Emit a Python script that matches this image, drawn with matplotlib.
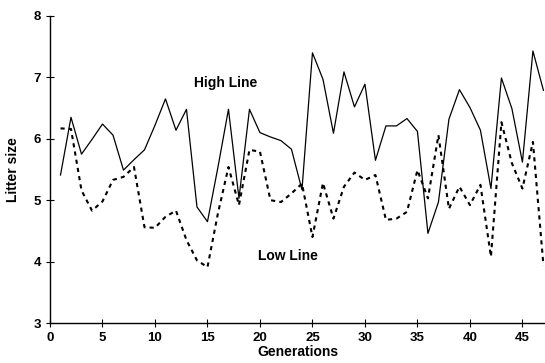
import matplotlib
matplotlib.use("Agg")
import matplotlib.pyplot as plt

plt.rcParams['font.family'] = ['Liberation Sans', 'DejaVu Sans']

# 世代
generations = list(range(1, 48))

# High Line（實線）
high_line = [5.41, 6.35, 5.75, 5.99, 6.24, 6.06, 5.49, 5.66, 5.82, 6.22,
             6.65, 6.14, 6.48, 4.89, 4.65, 5.54, 6.48, 5.03, 6.48, 6.10,
             6.03, 5.97, 5.83, 5.17, 7.40, 6.97, 6.09, 7.09, 6.52, 6.89,
             5.65, 6.21, 6.21, 6.33, 6.12, 4.46, 4.97, 6.32, 6.80, 6.51,
             6.14, 5.19, 6.99, 6.49, 5.62, 7.43, 6.79]

# Low Line（虛線）
low_line = [6.17, 6.16, 5.16, 4.83, 4.98, 5.33, 5.38, 5.54, 4.56, 4.55,
            4.73, 4.83, 4.35, 4.02, 3.91, 4.79, 5.54, 4.92, 5.82, 5.79,
            5.00, 4.97, 5.11, 5.27, 4.40, 5.28, 4.70, 5.22, 5.45, 5.33,
            5.41, 4.68, 4.70, 4.81, 5.49, 5.03, 6.06, 4.86, 5.22, 4.92,
            5.25, 4.08, 6.27, 5.60, 5.19, 5.95, 3.94]

x_ticks = [0, 5, 10, 15, 20, 25, 30, 35, 40, 45]
y_ticks = [3, 4, 5, 6, 7, 8]

fig = plt.figure(figsize=(5.45, 3.63), dpi=100)
ax = fig.add_axes([50 / 545, 40 / 363, 495 / 545, 307 / 363])

ax.plot(generations, high_line, color='black', linewidth=0.9, clip_on=False)
ax.plot(generations, low_line, color='black', linewidth=1.5,
        linestyle=(0, (2, 2)), clip_on=False)

ax.text(13.7, 6.91, 'High Line', fontsize=10, fontweight='bold', va='center')
ax.text(19.8, 4.09, 'Low Line', fontsize=10, fontweight='bold', va='center')

ax.set_xlim(0, 47.15)
ax.set_ylim(3, 8)
ax.set_xticks(x_ticks)
ax.set_yticks(y_ticks)
ax.tick_params(direction='inout', length=6, width=0.8, labelsize=9.5)
for lab in ax.get_xticklabels() + ax.get_yticklabels():
    lab.set_fontweight('bold')

ax.spines['top'].set_visible(False)
ax.spines['right'].set_visible(False)
ax.spines['left'].set_linewidth(1.0)
ax.spines['bottom'].set_linewidth(1.0)

ax.set_xlabel('Generations', fontsize=10, fontweight='bold', labelpad=1)
ax.set_ylabel('Litter size', fontsize=10, fontweight='bold', labelpad=10)

fig.savefig('out.png', dpi=100, facecolor='white')
